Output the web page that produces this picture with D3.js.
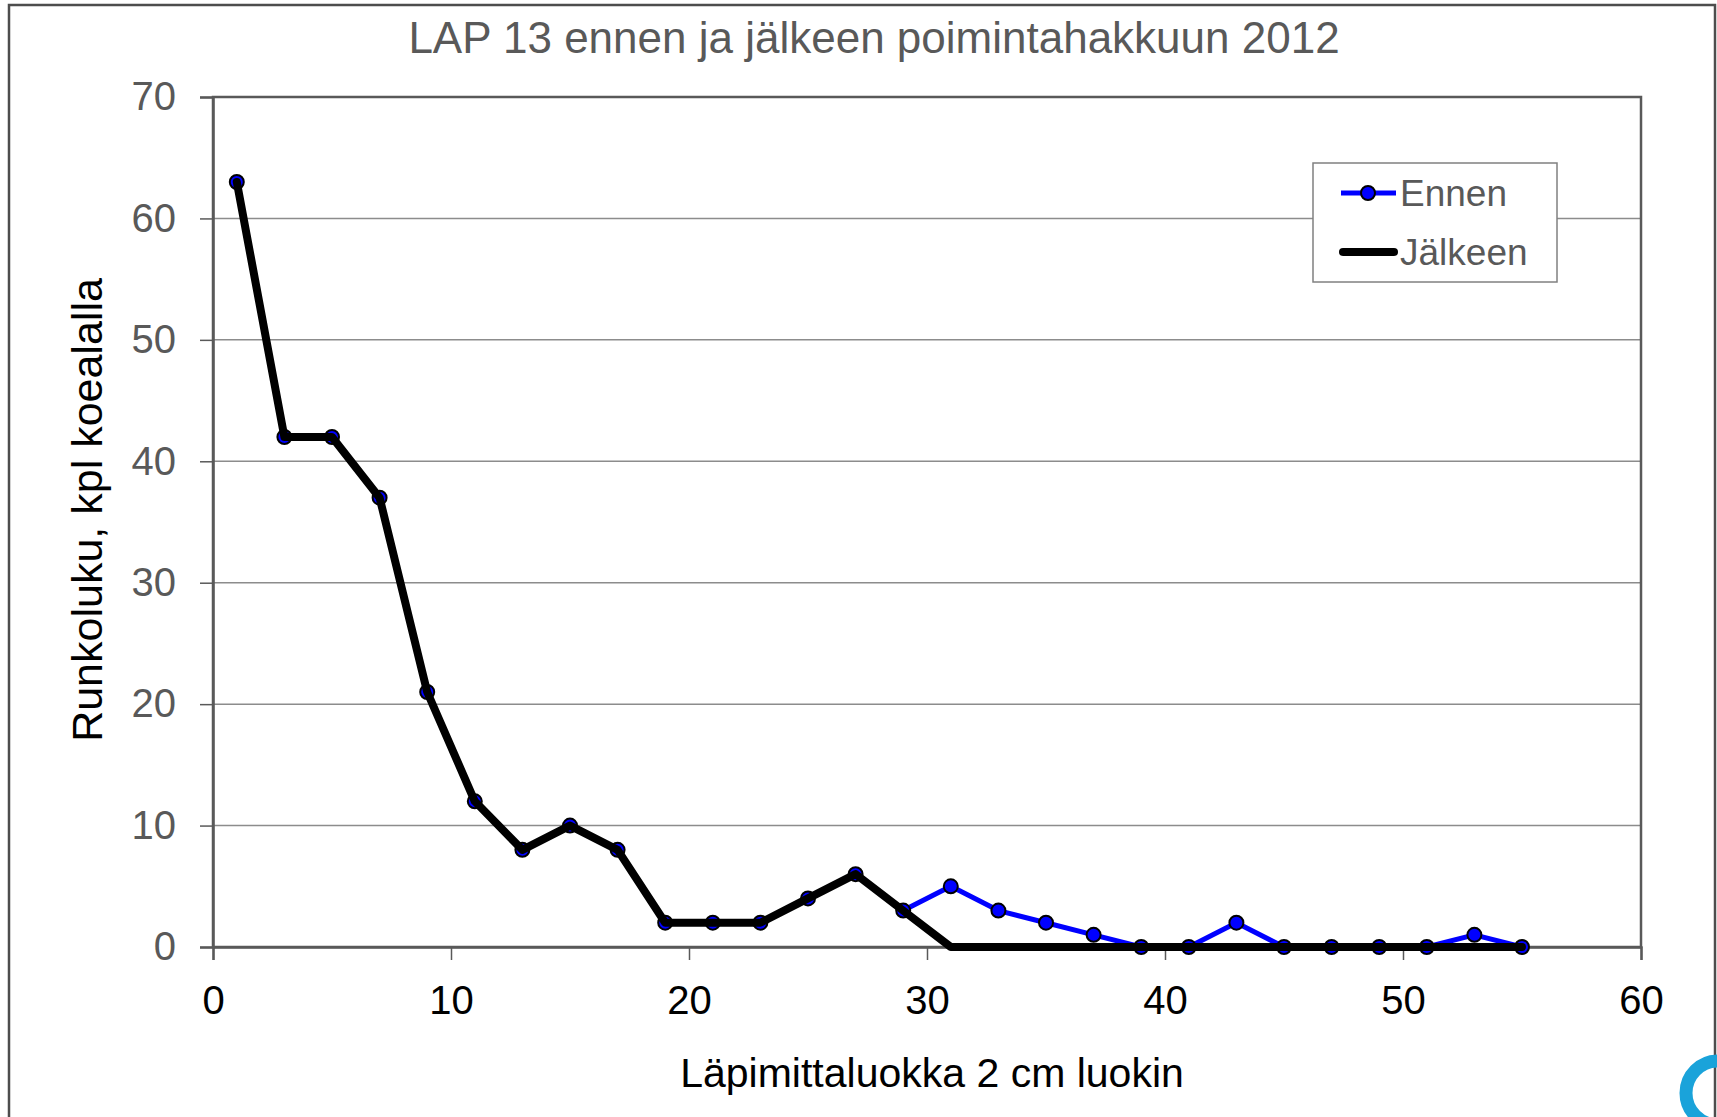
<!DOCTYPE html>
<html>
<head>
<meta charset="utf-8">
<script src="https://cdn.jsdelivr.net/npm/d3@7"></script>
<style>
  body { margin: 0; background: #fff; }
  svg { display: block; font-family: "Liberation Sans", Arial, sans-serif; }
</style>
</head>
<body>
<div id="chart"></div>
<script>
var diameters = [1, 3, 5, 7, 9, 11, 13, 15, 17, 19, 21, 23, 25, 27, 29, 31, 33, 35, 37, 39, 41, 43, 45, 47, 49, 51, 53, 55];
var ennen = [63, 42, 42, 37, 21, 12, 8, 10, 8, 2, 2, 2, 4, 6, 3, 5, 3, 2, 1, 0, 0, 2, 0, 0, 0, 0, 1, 0];
var jalkeen = [63, 42, 42, 37, 21, 12, 8, 10, 8, 2, 2, 2, 4, 6, 3, 0, 0, 0, 0, 0, 0, 0, 0, 0, 0, 0, 0, 0];
var xTicks = [0, 10, 20, 30, 40, 50, 60];
var yTicks = [0, 10, 20, 30, 40, 50, 60, 70];

(function () {
  var width = 1717;
  var height = 1117;
  var plotLeft = 213, plotRight = 1641, plotTop = 97, plotBottom = 947;
  var grey = "#595959";

  var svg = d3.select("#chart").append("svg")
    .attr("width", width)
    .attr("height", height);

  svg.append("rect").attr("width", width).attr("height", height).attr("fill", "#fff");

  // outer frame of the slide/chart
  svg.append("rect")
    .attr("x", 9).attr("y", 5)
    .attr("width", 1706).attr("height", 1300)
    .attr("fill", "none")
    .attr("stroke", "#4d4d4d")
    .attr("stroke-width", 2.5);

  var x = d3.scaleLinear().domain([0, 60]).range([plotLeft, plotRight]);
  var y = d3.scaleLinear().domain([0, 70]).range([plotBottom, plotTop]);

  // gridlines
  svg.append("g").selectAll("line")
    .data(yTicks.slice(1, -1))
    .enter().append("line")
    .attr("x1", plotLeft).attr("x2", plotRight)
    .attr("y1", function (d) { return y(d); })
    .attr("y2", function (d) { return y(d); })
    .attr("stroke", "#8c8c8c")
    .attr("stroke-width", 1.5);

  // plot border
  svg.append("rect")
    .attr("x", plotLeft).attr("y", plotTop)
    .attr("width", plotRight - plotLeft).attr("height", plotBottom - plotTop)
    .attr("fill", "none")
    .attr("stroke", grey)
    .attr("stroke-width", 2.5);

  // y axis
  var yAxis = svg.append("g")
    .attr("transform", "translate(" + plotLeft + ",0)")
    .call(d3.axisLeft(y).tickValues(yTicks).tickSize(13).tickPadding(24));
  yAxis.select(".domain").attr("stroke", grey).attr("stroke-width", 2.5);
  yAxis.selectAll(".tick line").attr("stroke", grey).attr("stroke-width", 1.5);
  yAxis.selectAll(".tick text")
    .attr("fill", grey)
    .style("font-size", "40px")
    .style("font-family", "Liberation Sans, Arial, sans-serif");

  // x axis
  var xAxis = svg.append("g")
    .attr("transform", "translate(0," + plotBottom + ")")
    .call(d3.axisBottom(x).tickValues(xTicks).tickSize(13).tickPadding(26));
  xAxis.select(".domain").attr("stroke", grey).attr("stroke-width", 2.5);
  xAxis.selectAll(".tick line").attr("stroke", grey).attr("stroke-width", 1.5);
  xAxis.selectAll(".tick text")
    .attr("fill", "#000")
    .style("font-size", "40px")
    .style("font-family", "Liberation Sans, Arial, sans-serif");

  // title
  svg.append("text")
    .attr("x", 874).attr("y", 53)
    .attr("text-anchor", "middle")
    .attr("fill", grey)
    .style("font-size", "44px")
    .text("LAP 13 ennen ja jälkeen poimintahakkuun 2012");

  // axis titles
  svg.append("text")
    .attr("x", 932).attr("y", 1087)
    .attr("text-anchor", "middle")
    .attr("fill", "#000")
    .style("font-size", "41px")
    .text("Läpimittaluokka 2 cm luokin");

  svg.append("text")
    .attr("transform", "translate(102,510) rotate(-90)")
    .attr("text-anchor", "middle")
    .attr("fill", "#000")
    .style("font-size", "43px")
    .text("Runkoluku, kpl koealalla");

  var line = d3.line()
    .x(function (d) { return x(d[0]); })
    .y(function (d) { return y(d[1]); });

  var ennenPts = diameters.map(function (d, i) { return [d, ennen[i]]; });
  var jalkeenPts = diameters.map(function (d, i) { return [d, jalkeen[i]]; });

  svg.append("path")
    .datum(ennenPts)
    .attr("d", line)
    .attr("fill", "none")
    .attr("stroke", "#0000ff")
    .attr("stroke-width", 5)
    .attr("stroke-linejoin", "round");

  svg.append("g").selectAll("circle")
    .data(ennenPts)
    .enter().append("circle")
    .attr("cx", function (d) { return x(d[0]); })
    .attr("cy", function (d) { return y(d[1]); })
    .attr("r", 7)
    .attr("fill", "#0000ff")
    .attr("stroke", "#000")
    .attr("stroke-width", 2);

  svg.append("path")
    .datum(jalkeenPts)
    .attr("d", line)
    .attr("fill", "none")
    .attr("stroke", "#000")
    .attr("stroke-width", 8)
    .attr("stroke-linejoin", "round")
    .attr("stroke-linecap", "round");

  // legend
  var legend = svg.append("g");
  legend.append("rect")
    .attr("x", 1313).attr("y", 163)
    .attr("width", 244).attr("height", 119)
    .attr("fill", "#fff")
    .attr("stroke", "#808080")
    .attr("stroke-width", 1.5);

  legend.append("line")
    .attr("x1", 1341).attr("x2", 1396).attr("y1", 193).attr("y2", 193)
    .attr("stroke", "#0000ff").attr("stroke-width", 5);
  legend.append("circle")
    .attr("cx", 1368).attr("cy", 193).attr("r", 7)
    .attr("fill", "#0000ff").attr("stroke", "#000").attr("stroke-width", 2);
  legend.append("text")
    .attr("x", 1400).attr("y", 206)
    .attr("fill", grey)
    .style("font-size", "37px")
    .text("Ennen");

  legend.append("line")
    .attr("x1", 1343).attr("x2", 1394).attr("y1", 252).attr("y2", 252)
    .attr("stroke", "#000").attr("stroke-width", 8).attr("stroke-linecap", "round");
  legend.append("text")
    .attr("x", 1400).attr("y", 265)
    .attr("fill", grey)
    .style("font-size", "37px")
    .text("Jälkeen");

  // corner logo fragment
  svg.append("circle")
    .attr("cx", 1718).attr("cy", 1093).attr("r", 32)
    .attr("fill", "none")
    .attr("stroke", "#1aa3da")
    .attr("stroke-width", 13);
})();
</script>
</body>
</html>
